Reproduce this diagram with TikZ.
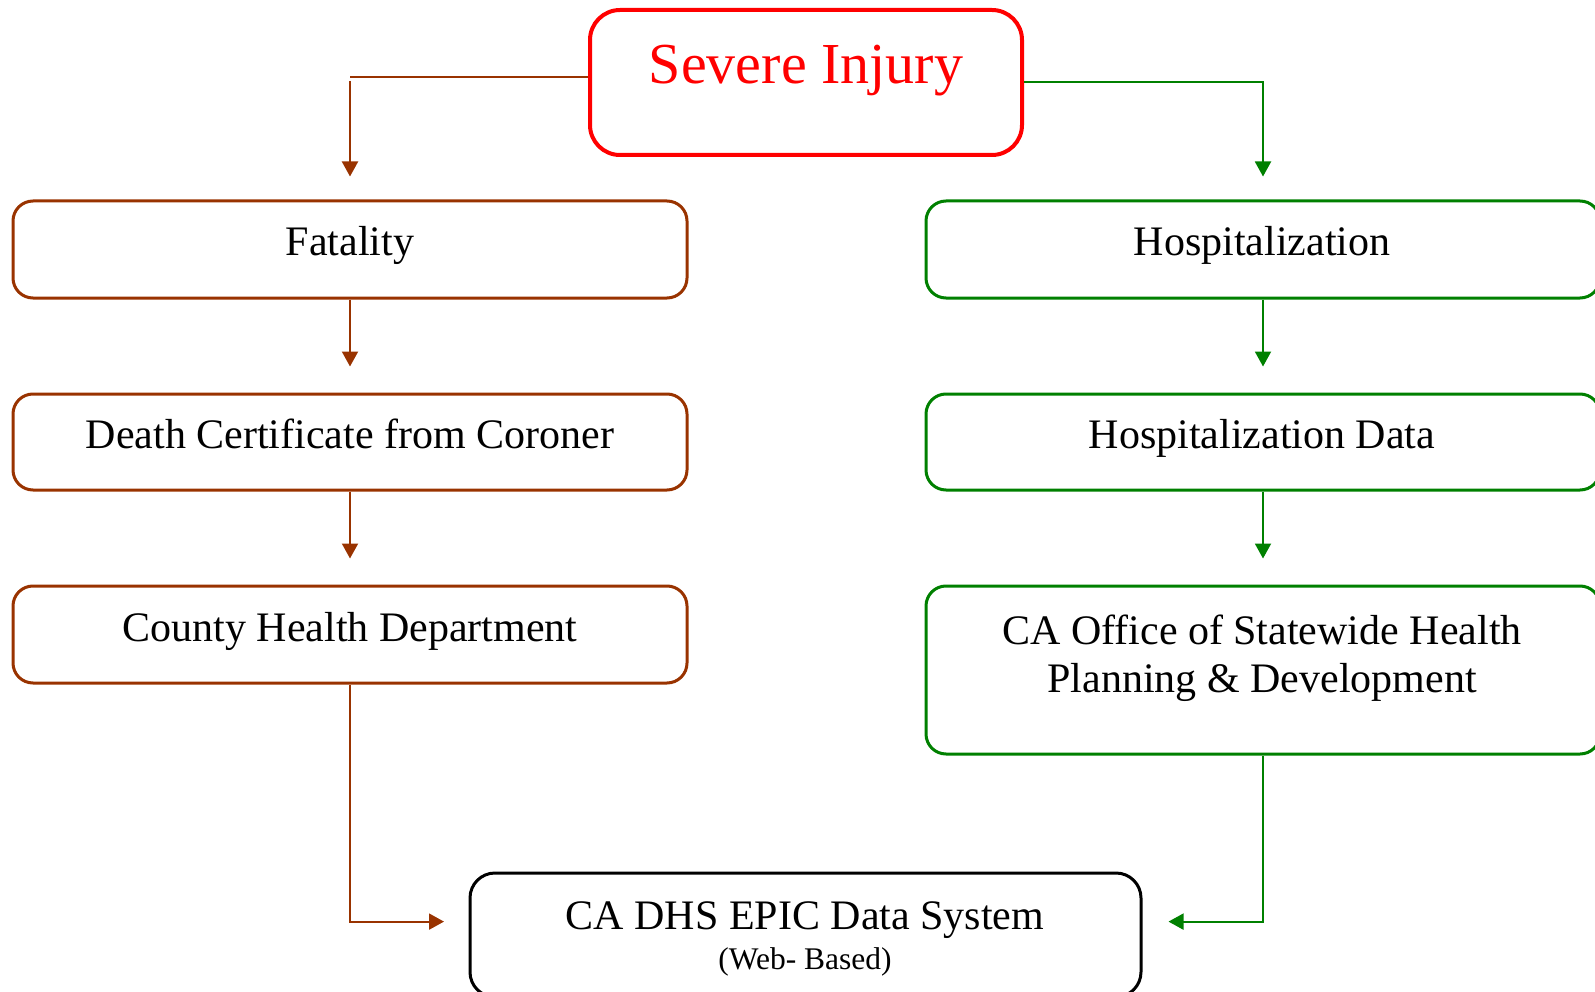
\documentclass[tikz,border=0pt]{standalone}
\usepackage{fontspec}
\setmainfont{Liberation Serif}
\usetikzlibrary{arrows.meta}
\definecolor{brn}{RGB}{153,51,0}
\definecolor{grn}{RGB}{0,128,0}
\definecolor{rd}{RGB}{255,0,0}
\begin{document}
\begin{tikzpicture}[x=1pt,y=-1pt,
 box/.style={rounded corners=20pt, line width=3pt, minimum width=674pt, inner sep=0pt},
 lbox/.style={box, draw=brn},
 rbox/.style={box, draw=grn},
 txt/.style={anchor=base, inner sep=0pt, font=\fontsize{42}{48}\selectfont},
 lcon/.style={draw=brn, line width=2pt},
 rcon/.style={draw=grn, line width=2pt},
 tip/.style={-{Triangle[width=16pt,length=15pt]}}
]
\useasboundingbox (0,0) rectangle (1595,992);
% top box
\node[draw=rd, line width=4pt, rounded corners=30pt, minimum width=432pt, minimum height=145pt, inner sep=0pt] (sev) at (806,82.5) {};
\node[txt, text=rd, font=\fontsize{58}{60}\selectfont] (sevt) at (806,84) {Severe Injury};
% left column
\node[lbox, minimum height=97pt] (fat) at (350,249.5) {};
\node[txt] (fatt) at (350,256) {Fatality};
\node[lbox, minimum height=96pt] (dea) at (350,442) {};
\node[txt] (deat) at (350,448) {Death Certificate from Coroner};
\node[lbox, minimum height=97pt] (cou) at (350,634.5) {};
\node[txt] (cout) at (350,641) {County Health Department};
% right column
\node[rbox, minimum height=97pt] (hos) at (1263,249.5) {};
\node[txt] (host) at (1262,256) {Hospitalization};
\node[rbox, minimum height=96pt] (hdat) at (1263,442) {};
\node[txt] (hdatt) at (1262,448) {Hospitalization Data};
\node[rbox, minimum height=168pt] (osh) at (1263,670) {};
\node[txt] (osht1) at (1262,644) {CA Office of Statewide Health};
\node[txt] (osht2) at (1262,692) {Planning \& Development};
% bottom box
\node[draw=black, line width=3pt, rounded corners=25pt, minimum width=671pt, minimum height=124pt, inner sep=0pt] (epic) at (805.5,935) {};
\node[txt] (epict) at (805,929) {CA DHS EPIC Data System};
\node[txt, font=\fontsize{31.5}{34}\selectfont] (webt) at (805,969) {(Web- Based)};
% connectors
\coordinate (lh) at (350,77);
\coordinate (lv) at (350,81);
\draw[lcon] ([yshift=5.5pt]sev.west) -- (lh);
\draw[lcon,tip,shorten >=23pt] (lv) -- (fat.north);
\draw[rcon,tip,shorten >=23pt] (sev.east) -| (hos.north);
\draw[lcon,tip,shorten >=26pt] (fat.south) -- (dea.north);
\draw[lcon,tip,shorten >=26pt] (dea.south) -- (cou.north);
\draw[rcon,tip,shorten >=26pt] (hos.south) -- (hdat.north);
\draw[rcon,tip,shorten >=26pt] (hdat.south) -- (osh.north);
\draw[lcon,tip,shorten >=24.5pt] (cou.south) |- ([yshift=13.4pt]epic.west);
\draw[rcon,tip,shorten >=26pt] (osh.south) |- ([yshift=13.4pt]epic.east);
\end{tikzpicture}
\end{document}
